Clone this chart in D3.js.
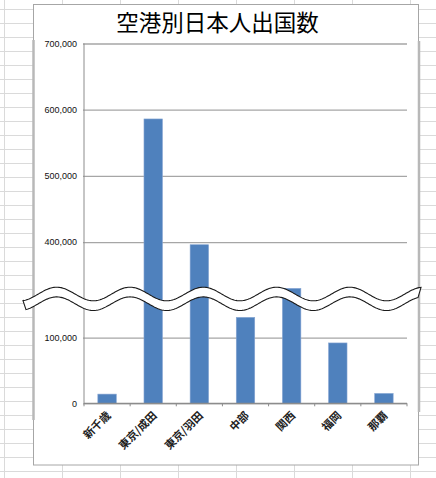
<!DOCTYPE html>
<html>
<head>
<meta charset="utf-8">
<script src="https://cdn.jsdelivr.net/npm/d3@7"></script>
<style>
	body { margin: 0; background: #fff; }
	svg { display: block; }
</style>
</head>
<body>
<div id="chart"></div>
<script>
var airports = ['新千歳', '東京/成田', '東京/羽田', '中部', '関西', '福岡', '那覇'];
var departures = [14000, 586000, 396000, 131000, 330000, 92000, 15000];
var yTicks = [0, 100000, 400000, 500000, 600000, 700000];
var axisBreak = [159000, 314000];
var yMax = 700000;

var width = 436, height = 478;
var svg = d3.select('#chart').append('svg')
	.attr('width', width)
	.attr('height', height);

// spreadsheet cells behind the chart
var sheet = svg.append('g');
d3.range(9.5, height, 14).forEach(function (y) {
	sheet.append('line')
		.attr('x1', 0).attr('x2', width)
		.attr('y1', y).attr('y2', y)
		.style('stroke', '#dadada');
});
[4.5, 62.5, 120.5, 178.5, 236.5, 294.5, 352.5, 410.5].forEach(function (x) {
	sheet.append('line')
		.attr('x1', x).attr('x2', x)
		.attr('y1', 0).attr('y2', height)
		.style('stroke', '#dadada');
});

// chart frame
svg.append('rect')
	.attr('x', 33.5).attr('y', 4.5)
	.attr('width', 385).attr('height', 460.5)
	.style('fill', '#fff')
	.style('stroke', '#a6a6a6');
svg.append('line')
	.attr('x1', 33.5).attr('x2', 33.5).attr('y1', 40).attr('y2', 420)
	.style('stroke', '#b8b8b8').style('stroke-width', 2.5);
svg.append('line')
	.attr('x1', 419).attr('x2', 419).attr('y1', 41).attr('y2', 412)
	.style('stroke', '#b8b8b8').style('stroke-width', 2.5);

svg.append('text')
	.attr('x', 217.5).attr('y', 30.5)
	.attr('text-anchor', 'middle')
	.style('font-family', '"Noto Sans CJK JP", sans-serif')
	.style('font-size', '22.5px')
	.style('fill', '#000')
	.text('空港別日本人出国数');

var plotLeft = 84, plotRight = 407, plotTop = 43.5, plotBottom = 403.3, seam = 299;

var x = d3.scaleBand()
	.domain(airports)
	.range([plotLeft, plotRight])
	.paddingInner(0.6)
	.paddingOuter(0.3);

// broken axis: lower part 0..break[0], upper part break[1]..max
var y = d3.scaleLinear()
	.domain([0, axisBreak[0], axisBreak[1], yMax])
	.range([plotBottom, seam, seam, plotTop]);

var yAxis = svg.append('g')
	.attr('transform', 'translate(' + plotLeft + ',0)')
	.call(d3.axisLeft(y)
		.tickValues(yTicks)
		.tickFormat(d3.format(','))
		.tickSize(-(plotRight - plotLeft))
		.tickPadding(7));
yAxis.select('.domain').remove();
yAxis.selectAll('.tick line')
	.style('stroke', '#a6a6a6')
	.style('stroke-width', 1.3)
	.attr('x1', -1);
yAxis.selectAll('.tick text')
	.style('font-family', '"Liberation Sans", Arial, sans-serif')
	.style('font-size', '9px')
	.style('fill', '#111');

svg.append('line')
	.attr('x1', plotLeft).attr('x2', plotLeft)
	.attr('y1', plotTop).attr('y2', plotBottom)
	.style('stroke', '#8c8c8c');

svg.append('g').selectAll('rect')
	.data(departures)
	.enter().append('rect')
	.attr('x', function (d, i) { return x(airports[i]); })
	.attr('y', function (d) { return y(d); })
	.attr('width', x.bandwidth())
	.attr('height', function (d) { return plotBottom - y(d); })
	.style('fill', '#4f81bd')
	.style('stroke', '#86a5d2')
	.style('stroke-width', 0.6);

// category axis
svg.append('line')
	.attr('x1', plotLeft).attr('x2', plotRight)
	.attr('y1', plotBottom).attr('y2', plotBottom)
	.style('stroke', '#8c8c8c')
	.style('stroke-width', 1.3);
d3.range(airports.length + 1).forEach(function (i) {
	var tx = plotLeft + i * x.step();
	svg.append('line')
		.attr('x1', tx).attr('x2', tx)
		.attr('y1', plotBottom).attr('y2', plotBottom + 3)
		.style('stroke', '#8c8c8c');
});

svg.append('g').selectAll('text')
	.data(airports)
	.enter().append('text')
	.attr('transform', function (d) {
		return 'translate(' + (x(d) + x.bandwidth() / 2 - 1.5) + ',' + (plotBottom + 7) + ') rotate(-45)';
	})
	.attr('text-anchor', 'end')
	.attr('dy', '0.75em')
	.style('font-family', '"Noto Sans CJK JP", sans-serif')
	.style('font-size', '11px')
	.style('font-weight', 'bold')
	.style('fill', '#222')
	.text(function (d) { return d; });

// wavy break band
var period = 73.3, amp = 6.8;
function waveY(px, offset) {
	return seam - 5 + offset - amp * Math.cos(2 * Math.PI * (px - 56.7) / period);
}
var topEdge = d3.range(23, 422, 1).map(function (px) { return [px, waveY(px, 0)]; });
var bottomEdge = d3.range(418, 25, -1).map(function (px) { return [px, waveY(px, 9.7)]; });
svg.append('path')
	.attr('d', d3.line()(topEdge.concat(bottomEdge)) + 'Z')
	.style('fill', '#fff')
	.style('stroke', '#1a1a1a')
	.style('stroke-width', 1.1);
</script>
</body>
</html>
